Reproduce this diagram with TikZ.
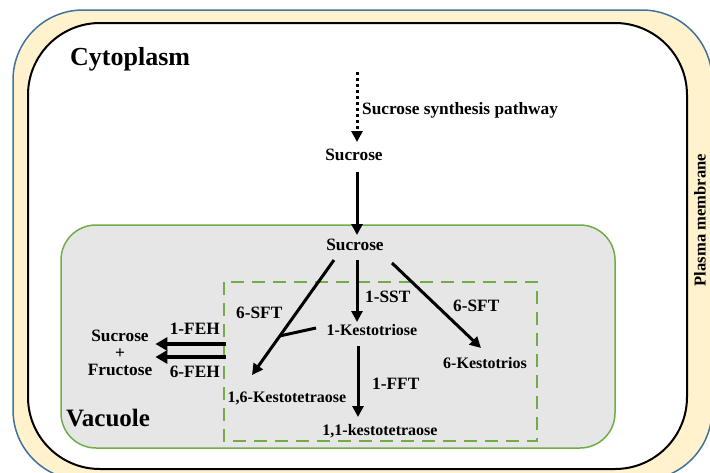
\documentclass[tikz,border=0pt]{standalone}
\usepackage{fontspec}
\setmainfont{Liberation Serif}
\usetikzlibrary{arrows.meta}
\definecolor{membrane}{HTML}{FFF2CC}
\definecolor{membraneline}{HTML}{41719C}
\definecolor{vacfill}{HTML}{E7E6E6}
\definecolor{vacline}{HTML}{70AD47}
\begin{document}
\begin{tikzpicture}[x=1pt,y=-1pt,
    lbl/.style={font=\fontsize{17.3}{17}\selectfont\bfseries, inner sep=0pt},
    prod/.style={font=\fontsize{16}{19}\selectfont\bfseries, inner sep=0pt},
    big/.style={font=\fontsize{26}{30}\selectfont\bfseries, inner sep=0pt},
    arr/.style={line width=3pt, -{Triangle[length=11pt,width=11pt]}},
    fat/.style={line width=4.5pt, -{Triangle[length=12pt,width=13pt]}}]
  \useasboundingbox (0,0) rectangle (710,472);
  % cell
  \draw[membraneline, fill=membrane, line width=1.5pt, rounded corners=70pt]
    (13,10) rectangle (712,480);
  \draw[black, fill=white, line width=2pt, rounded corners=72pt]
    (28,23) rectangle (687,469);
  \draw[vacline, fill=vacfill, line width=1.5pt, rounded corners=35pt]
    (61,225) rectangle (615,448);
  \draw[vacline, line width=2pt, dash pattern=on 13pt off 8pt]
    (224,282) rectangle (537,441);
  % labels
  \node[big, anchor=west] (cyto) at (70,59) {Cytoplasm};
  \node[big, anchor=west, font=\fontsize{25}{30}\selectfont\bfseries] (vac) at (66,418) {Vacuole};
  \node[lbl, rotate=90, font=\fontsize{16.6}{20}\selectfont\bfseries] (pm) at (700,220) {Plasma membrane};
  \coordinate (src) at (357,72);
  \node[lbl, anchor=west] (synth) at (362,110) {Sucrose synthesis pathway};
  \node[lbl] (suc1) at (354,155) {Sucrose};
  \node[lbl] (suc2) at (355,245) {Sucrose};
  \node[prod] (k1) at (372,330) {1-Kestotriose};
  \node[prod] (k6) at (485,363) {6-Kestotrios};
  \node[prod] (k11) at (380,431) {1,1-kestotetraose};
  \node[prod] (k16) at (287,398) {1,6-Kestotetraose};
  \node[lbl, align=center] (sucfru) at (120,353) {Sucrose\\+\\Fructose};
  \node[lbl, anchor=west] (sst) at (365,297) {1-SST};
  \node[lbl, anchor=west] (sftR) at (453,306) {6-SFT};
  \node[lbl, anchor=west] (sftL) at (236,313) {6-SFT};
  \node[lbl, anchor=west] (fft) at (372,384) {1-FFT};
  \node[lbl, anchor=east] (feh1) at (220,329) {1-FEH};
  \node[lbl, anchor=east] (feh6) at (220,372) {6-FEH};
  % arrows
  \draw[arr, dash pattern=on 3pt off 3pt] (src) -- ([shift={(3,-13)}]suc1.center);
  \draw[arr] ([shift={(3,17)}]suc1.center) -- ([shift={(2,-10)}]suc2.center);
  \draw[arr] ([shift={(2,15)}]suc2.center) -- ([shift={(-15,-8)}]k1.center);
  \draw[arr] ([shift={(-14,16)}]k1.center) -- ([shift={(-22,-14)}]k11.center);
  \draw[arr] ([shift={(37,18)}]suc2.center) -- ([shift={(-4,-15)}]k6.center);
  \draw[arr] ([shift={(-21,15)}]suc2.center) -- coordinate[pos=0.66] (join)
    ([shift={(-35,-23)}]k16.center);
  \draw[line width=3pt] ([shift={(-56,-2)}]k1.center) -- (join);
  \draw[fat] ([shift={(6,15)}]feh1.east) -- ([shift={(3,-9)}]sucfru.east);
  \draw[fat] ([shift={(6,-15)}]feh6.east) -- ([shift={(3,4)}]sucfru.east);
\end{tikzpicture}
\end{document}
